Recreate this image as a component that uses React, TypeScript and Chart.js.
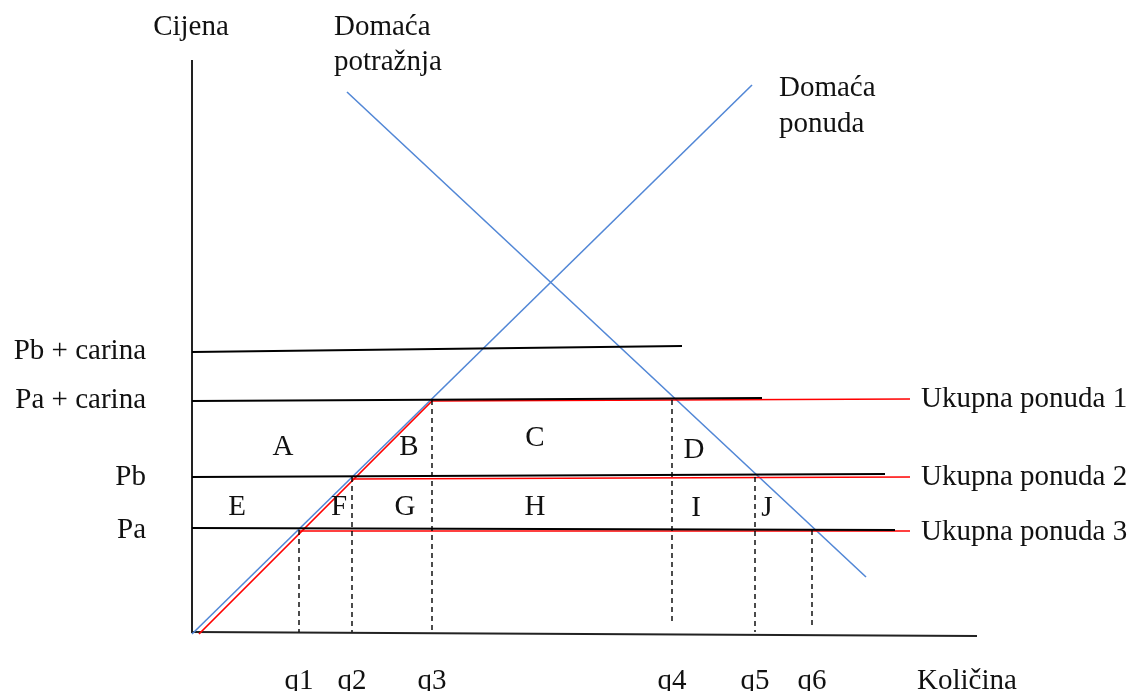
import { useEffect, useRef } from "react";
import { Chart, registerables } from "chart.js";

Chart.register(...registerables);

// ---- Data (quantity on x, price on y; arbitrary units) ----
const quantityLabels = ["q1", "q2", "q3", "q4", "q5", "q6"];
const quantityValues = [10.7, 16.0, 24.0, 48.0, 56.3, 62.0];
const quantityDropTops = [10.2, 15.5, 23.2, 23.2, 15.5, 10.2];
const quantityDropBottoms = [0, 0, 0, 0.8, 0, 0.4];

const priceLabels = ["Pb + carina", "Pa + carina", "Pb", "Pa"];
const priceValues = [28.1, 23.2, 15.5, 10.2];
const priceLineStartP = [28.0, 23.1, 15.5, 10.4];
const priceLineEndQ = [49.0, 57.0, 69.3, 70.3];
const priceLineEndP = [28.6, 23.4, 15.8, 10.2];

const supplyQ = [0, 56.0];
const supplyP = [-0.2, 54.7];
const demandQ = [15.5, 67.4];
const demandP = [54.0, 5.5];

const totalSupplyLabels = ["Ukupna ponuda 1", "Ukupna ponuda 2", "Ukupna ponuda 3"];
const totalSupply1Q = [0.7, 24.0, 71.8];
const totalSupply1P = [-0.2, 23.1, 23.3];
const totalSupply2Q = [16.0, 71.8];
const totalSupply2P = [15.3, 15.5];
const totalSupply3Q = [10.7, 71.8];
const totalSupply3P = [10.1, 10.1];
const totalSupplyLabelP = [23.3, 15.5, 10.0];

const areaLetters = ["A", "B", "C", "D", "E", "F", "G", "H", "I", "J"];
const areaQ = [9.1, 21.7, 34.3, 50.2, 4.5, 14.7, 21.3, 34.3, 50.4, 57.5];
const areaP = [18.5, 18.5, 19.4, 18.2, 12.5, 12.5, 12.5, 12.5, 12.4, 12.4];

const axisQMax = 78.5;
const axisPMax = 57.2;

// ---- Layout ----
const W = 1134;
const H = 691;
const X_MIN = -19.2;
const X_MAX = 94.2;
const Y_MIN = -5.9;
const Y_MAX = 63.2;
const FONT = '29px "Liberation Serif", "Times New Roman", serif';
const BLUE = "#5287d6";
const RED = "#ff0000";

const pts = (xs: number[], ys: number[]) => xs.map((x, i) => ({ x, y: ys[i] }));

const lineDs = (data: { x: number; y: number }[], color: string, width: number, dash: number[] = []) => ({
  data,
  showLine: true,
  borderColor: color,
  borderWidth: width,
  borderDash: dash,
  pointRadius: 0,
  pointHoverRadius: 0,
  fill: false,
  tension: 0,
});

const textPlugin = {
  id: "diagramText",
  afterDatasetsDraw(chart: any) {
    const { ctx } = chart;
    const xs = chart.scales.x;
    const ys = chart.scales.y;
    const px = (v: number) => xs.getPixelForValue(v);
    const py = (v: number) => ys.getPixelForValue(v);
    ctx.save();
    ctx.font = FONT;
    ctx.fillStyle = "#111";
    ctx.textBaseline = "middle";

    const put = (t: string, x: number, y: number, align: CanvasTextAlign) => {
      ctx.textAlign = align;
      ctx.fillText(t, x, y);
    };

    // axis titles
    put("Cijena", px(-0.1), py(60.5), "center");
    put("Količina", px(72.5), py(-4.9), "left");
    // curve labels
    put("Domaća", px(14.2), py(60.5), "left");
    put("potražnja", px(14.2), py(57.0), "left");
    put("Domaća", px(58.7), py(54.4), "left");
    put("ponuda", px(58.7), py(50.8), "left");

    // price labels
    priceLabels.forEach((t, i) => put(t, px(-4.6), py(priceValues[i]), "right"));
    // quantity labels
    quantityLabels.forEach((t, i) => put(t, px(quantityValues[i]), py(-4.9), "center"));
    // total supply labels
    totalSupplyLabels.forEach((t, i) => put(t, px(72.9), py(totalSupplyLabelP[i]), "left"));
    // area letters
    areaLetters.forEach((t, i) => put(t, px(areaQ[i]), py(areaP[i]), "center"));

    ctx.restore();
  },
};

export default function App() {
  const ref = useRef<HTMLCanvasElement | null>(null);

  useEffect(() => {
    if (!ref.current) return;
    const datasets: any[] = [];

    // dashed drops
    quantityValues.forEach((q, i) => {
      datasets.push(
        lineDs(
          [
            { x: q, y: quantityDropTops[i] },
            { x: q, y: quantityDropBottoms[i] },
          ],
          "#000",
          1.4,
          [5, 4]
        )
      );
    });

    // world price lines (black)
    priceValues.forEach((_, i) => {
      datasets.push(
        lineDs(
          [
            { x: 0, y: priceLineStartP[i] },
            { x: priceLineEndQ[i], y: priceLineEndP[i] },
          ],
          "#000",
          1.8
        )
      );
    });

    // total supply (red)
    datasets.push(lineDs(pts(totalSupply1Q, totalSupply1P), RED, 1.7));
    datasets.push(lineDs(pts(totalSupply2Q, totalSupply2P), RED, 1.7));
    datasets.push(lineDs(pts(totalSupply3Q, totalSupply3P), RED, 1.7));

    // domestic supply & demand (blue)
    datasets.push(lineDs(pts(supplyQ, supplyP), BLUE, 1.6));
    datasets.push(lineDs(pts(demandQ, demandP), BLUE, 1.6));

    // axes
    datasets.push(lineDs([{ x: 0, y: -0.1 }, { x: 0, y: axisPMax }], "#222", 2));
    datasets.push(lineDs([{ x: 0, y: 0 }, { x: axisQMax, y: -0.4 }], "#222", 2));

    const chart = new Chart(ref.current, {
      type: "scatter",
      data: { datasets },
      options: {
        animation: false,
        responsive: false,
        maintainAspectRatio: false,
        devicePixelRatio: 1,
        layout: { padding: 0 },
        plugins: { legend: { display: false }, tooltip: { enabled: false } },
        events: [],
        scales: {
          x: { type: "linear", min: X_MIN, max: X_MAX, display: false },
          y: { type: "linear", min: Y_MIN, max: Y_MAX, display: false },
        },
      },
      plugins: [textPlugin],
    });
    return () => chart.destroy();
  }, []);

  return (
    <div style={{ position: "fixed", left: 0, top: 0, width: W, height: H, background: "#fff" }}>
      <canvas ref={ref} width={W} height={H} style={{ width: W, height: H, display: "block" }} />
    </div>
  );
}
